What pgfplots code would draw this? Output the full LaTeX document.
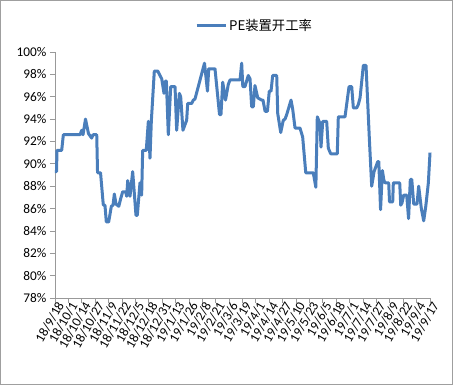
\documentclass[border=0pt]{standalone}
\usepackage{pgfplots}
\pgfplotsset{compat=1.18}
\usepackage{fontspec}
\setmainfont{Carlito}
\newfontfamily\cjk{Noto Sans CJK SC}
\definecolor{exblue}{RGB}{74,126,187}
\begin{document}
\begin{tikzpicture}[x=1pt,y=1pt]
\useasboundingbox (-55,-87) rectangle (398,298);
\draw[gray!75,line width=1pt] (-54.5,-86.5) rectangle (397.5,297.5);
\begin{axis}[
  at={(0,0)}, anchor=south west,
  scale only axis, width=375pt, height=246pt,
  xmin=0, xmax=364, ymin=78, ymax=100,
  axis x line*=bottom, axis y line*=left,
  axis line style={draw=gray!80, line width=0.8pt, -},
  tick style={draw=gray!80, line width=0.8pt},
  tick align=outside, major tick length=5pt,
  ytick={78,80,...,100},
  yticklabels={78\%,80\%,82\%,84\%,86\%,88\%,90\%,92\%,94\%,96\%,98\%,100\%},
  xtick={0,13,...,364},
  xticklabels={18/9/18,18/10/1,18/10/14,18/10/27,18/11/9,18/11/22,18/12/5,18/12/18,18/12/31,19/1/13,19/1/26,19/2/8,19/2/21,19/3/6,19/3/19,19/4/1,19/4/14,19/4/27,19/5/10,19/5/23,19/6/5,19/6/18,19/7/1,19/7/14,19/7/27,19/8/9,19/8/22,19/9/4,19/9/17},
  xticklabel style={rotate=60, anchor=east, font=\fontsize{13.3}{13.3}\selectfont, inner sep=1pt, xshift=4pt, yshift=-5pt},
  yticklabel style={font=\fontsize{13.3}{13.3}\selectfont},
  legend style={at={(0.532,1.106)}, anchor=center, draw=none, fill=none, font=\fontsize{13.3}{14}\selectfont\cjk},
  legend image code/.code={\draw[#1] (0pt,0pt) -- (29pt,0pt);},
  clip=false,
]
\addplot[color=exblue, line width=3pt, line join=round] coordinates {
(0,89.3) (1.5,89.3) (1.9,91.2) (6.5,91.2) (8.1,92.6) (24.3,92.6) (25.9,93.0) (27.2,92.6)
(29.6,94.0) (32.5,92.7) (35.6,92.3) (36.9,92.6) (40.5,92.6) (41.3,89.2) (44.2,89.2)
(46.9,86.3) (48.5,86.3) (49.8,84.8) (52.1,84.8) (54.7,86.2) (56.3,86.3) (57.6,87.3)
(59.2,86.4) (61.9,86.2) (63.8,86.9) (65.7,87.5) (68.6,87.5) (69.6,87.1) (70.6,88.5)
(72.8,87.1) (75.4,89.3) (78.6,85.4) (79.9,85.4) (82.5,88.3) (84.1,87.2) (85.1,91.2)
(88.6,91.2) (90.6,93.8) (92.2,90.5) (93.5,93.8) (96.4,98.3) (99.7,98.3) (103.6,97.6)
(105.8,96.3) (107.1,97.4) (108.1,97.4) (110.0,92.6) (112.3,96.9) (116.5,96.9) (118.1,93.0)
(120.7,96.3) (122.0,96.0) (124.2,93.0) (127.8,93.9) (128.8,95.4) (132.7,95.4) (134.3,95.7)
(135.9,95.8) (145.1,99.0) (148.0,96.5) (149.2,98.5) (155.3,98.5) (159.7,94.4) (161.1,94.4)
(162.8,97.3) (165.5,95.7) (168.2,97.1) (169.9,97.5) (179.6,97.5) (181.2,99.0) (182.3,96.9)
(184.4,96.9) (187.6,97.9) (189.3,97.6) (190.9,95.1) (192.5,95.1) (194.1,97.0) (196.8,95.9)
(200.6,95.7) (201.9,95.7) (203.9,94.7) (206.2,94.7) (208.0,96.5) (209.7,96.5) (211.3,97.9)
(215.2,97.9) (216.2,94.5) (219.1,92.8) (221.6,93.9) (223.3,94.0) (224.9,94.4) (229.1,95.7)
(230.7,94.9) (233.0,93.2) (237.8,93.2) (240.4,92.4) (243.4,89.2) (250.7,89.2) (253.2,87.9)
(254.6,94.2) (257.2,93.6) (258.2,91.5) (259.9,93.8) (263.7,93.8) (265.3,91.4) (267.6,90.9)
(274.0,90.9) (275.0,94.2) (281.5,94.2) (285.4,96.9) (288.0,96.9) (289.6,95.0) (292.9,95.0)
(294.4,95.3) (296.1,95.9) (299.3,98.8) (301.9,98.8) (305.1,92.3) (307.4,88.0) (309.7,89.3)
(313.3,90.2) (314.3,90.2) (316.0,85.9) (317.8,89.4) (319.3,88.5) (320.5,88.3) (323.9,88.3)
(324.7,86.6) (327.8,86.6) (328.4,88.3) (334.6,88.3) (335.6,86.3) (336.8,86.5) (338.5,87.2)
(341.4,87.2) (343.2,85.1) (344.9,88.6) (346.3,88.6) (348.2,86.4) (351.4,86.4) (353.0,88.0)
(355.6,86.0) (357.9,84.9) (359.9,86.2) (362.4,88.3) (364,91.0)
};
\addlegendentry{PE装置开工率}
\end{axis}
\end{tikzpicture}
\end{document}
